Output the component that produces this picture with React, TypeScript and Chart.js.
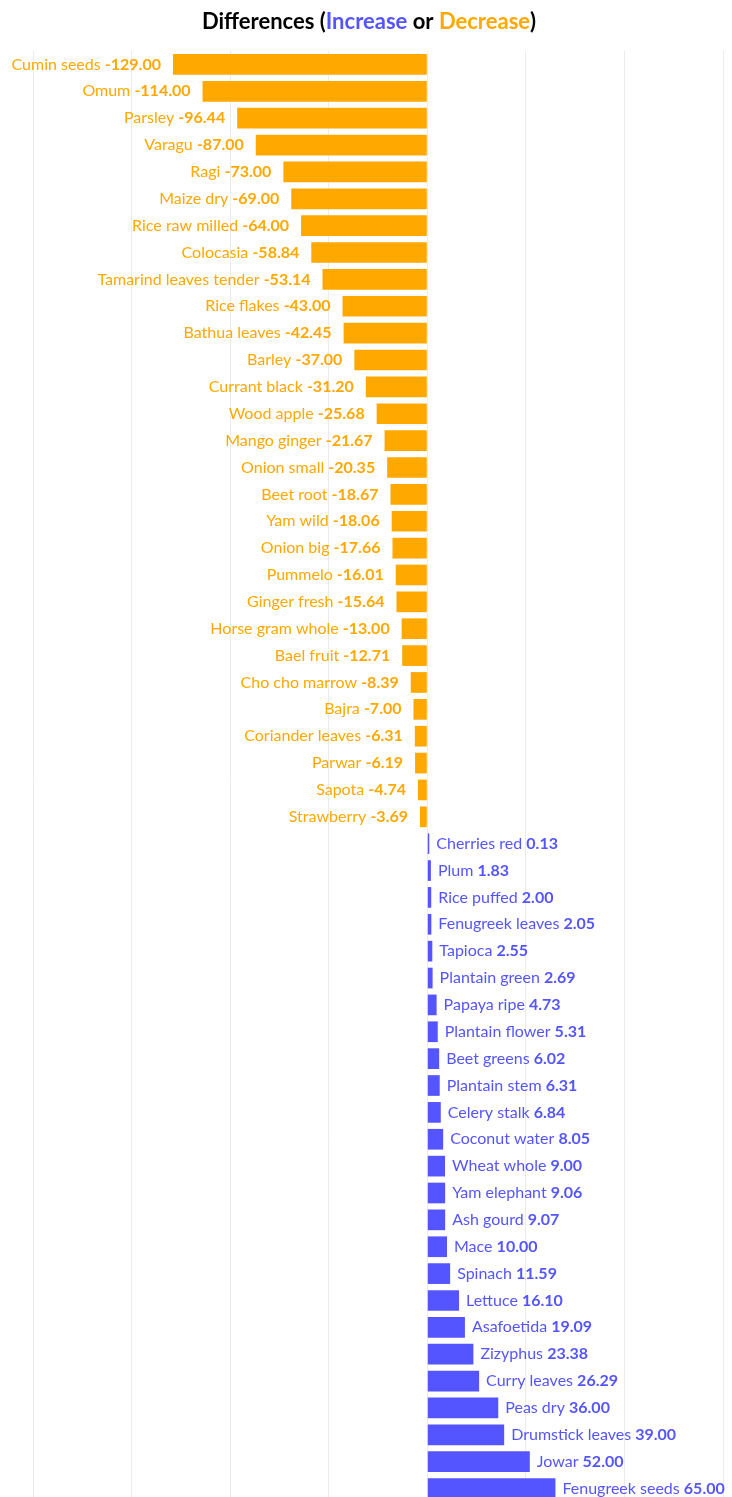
import React, { useEffect, useRef } from "react";
import { Chart, registerables } from "chart.js";

Chart.register(...registerables);

const categories = [
  "Cumin seeds", "Omum", "Parsley", "Varagu", "Ragi", "Maize dry", "Rice raw milled",
  "Colocasia", "Tamarind leaves tender", "Rice flakes", "Bathua leaves", "Barley",
  "Currant black", "Wood apple", "Mango ginger", "Onion small", "Beet root", "Yam wild",
  "Onion big", "Pummelo", "Ginger fresh", "Horse gram whole", "Bael fruit", "Cho cho marrow",
  "Bajra", "Coriander leaves", "Parwar", "Sapota", "Strawberry",
  "Cherries red", "Plum", "Rice puffed", "Fenugreek leaves", "Tapioca", "Plantain green",
  "Papaya ripe", "Plantain flower", "Beet greens", "Plantain stem", "Celery stalk",
  "Coconut water", "Wheat whole", "Yam elephant", "Ash gourd", "Mace", "Spinach", "Lettuce",
  "Asafoetida", "Zizyphus", "Curry leaves", "Peas dry", "Drumstick leaves", "Jowar",
  "Fenugreek seeds",
];

const differences = [
  -129.0, -114.0, -96.44, -87.0, -73.0, -69.0, -64.0, -58.84, -53.14, -43.0, -42.45, -37.0,
  -31.2, -25.68, -21.67, -20.35, -18.67, -18.06, -17.66, -16.01, -15.64, -13.0, -12.71, -8.39,
  -7.0, -6.31, -6.19, -4.74, -3.69,
  0.13, 1.83, 2.0, 2.05, 2.55, 2.69, 4.73, 5.31, 6.02, 6.31, 6.84, 8.05, 9.0, 9.06, 9.07,
  10.0, 11.59, 16.1, 19.09, 23.38, 26.29, 36.0, 39.0, 52.0, 65.0,
];

const xTicks = [-200, -150, -100, -50, 0, 50, 100, 150];

const INC = "#5555FF";
const DEC = "#FFA800";
const FONT = "Lato, 'Open Sans', sans-serif";
const W = 732;
const H = 1510;

const titlePlugin = {
  id: "multiTitle",
  afterDraw(chart: any) {
    const ctx = chart.ctx;
    const parts = [
      { t: "Differences (", c: "#000000" },
      { t: "Increase", c: INC },
      { t: " or ", c: "#000000" },
      { t: "Decrease", c: DEC },
      { t: ")", c: "#000000" },
    ];
    ctx.save();
    ctx.font = `bold 22px ${FONT}`;
    ctx.textBaseline = "middle";
    ctx.textAlign = "left";
    const total = parts.reduce((s, p) => s + ctx.measureText(p.t).width, 0);
    let x = W / 2 - total / 2 + 3;
    for (const p of parts) {
      ctx.fillStyle = p.c;
      ctx.fillText(p.t, x, 22);
      x += ctx.measureText(p.t).width;
    }
    ctx.restore();
  },
};

const labelPlugin = {
  id: "barLabels",
  afterDatasetsDraw(chart: any) {
    const ctx = chart.ctx;
    const meta = chart.getDatasetMeta(0);
    ctx.save();
    ctx.textBaseline = "middle";
    meta.data.forEach((bar: any, i: number) => {
      const v = differences[i];
      const name = categories[i] + " ";
      const val = v.toFixed(2);
      const color = v < 0 ? DEC : INC;
      ctx.fillStyle = color;
      const normalFont = `16px ${FONT}`;
      const boldFont = `bold 16px ${FONT}`;
      ctx.font = normalFont;
      const wName = ctx.measureText(name).width;
      ctx.font = boldFont;
      const wVal = ctx.measureText(val).width;
      const y = bar.y;
      let start: number;
      if (v < 0) {
        start = bar.x - 12 - wName - wVal;
      } else {
        start = bar.x + 7;
      }
      ctx.textAlign = "left";
      ctx.font = normalFont;
      ctx.fillText(name, start, y);
      ctx.font = boldFont;
      ctx.fillText(val, start + wName, y);
    });
    ctx.restore();
  },
};

export default function App() {
  const ref = useRef<HTMLCanvasElement | null>(null);
  useEffect(() => {
    document.body.style.margin = "0";
    document.body.style.overflow = "hidden";
    const canvas = ref.current!;
    const chart = new Chart(canvas, {
      type: "bar",
      data: {
        labels: categories,
        datasets: [
          {
            data: differences,
            backgroundColor: differences.map((v) => (v < 0 ? DEC : INC)),
            barPercentage: 0.77,
            categoryPercentage: 1,
            minBarLength: 2,
          },
        ],
      },
      options: {
        indexAxis: "y",
        animation: false,
        responsive: false,
        maintainAspectRatio: false,
        layout: { padding: { top: 51, left: 33, right: 9, bottom: 8 } },
        plugins: {
          legend: { display: false },
          title: { display: false },
          tooltip: { enabled: false },
        },
        scales: {
          x: {
            min: xTicks[0],
            max: xTicks[xTicks.length - 1],
            afterBuildTicks: (axis: any) => {
              axis.ticks = xTicks.map((v) => ({ value: v }));
            },
            ticks: { display: false },
            grid: { color: "#ebebeb", lineWidth: 1, drawTicks: false },
            border: { display: false },
          },
          y: {
            display: false,
            grid: { display: false },
          },
        },
      },
      plugins: [titlePlugin, labelPlugin],
    });
    return () => chart.destroy();
  }, []);
  return (
    <div style={{ width: W, height: 1497, overflow: "hidden", background: "#fff" }}>
      <canvas ref={ref} width={W} height={H} style={{ width: W, height: H, display: "block" }} />
    </div>
  );
}
